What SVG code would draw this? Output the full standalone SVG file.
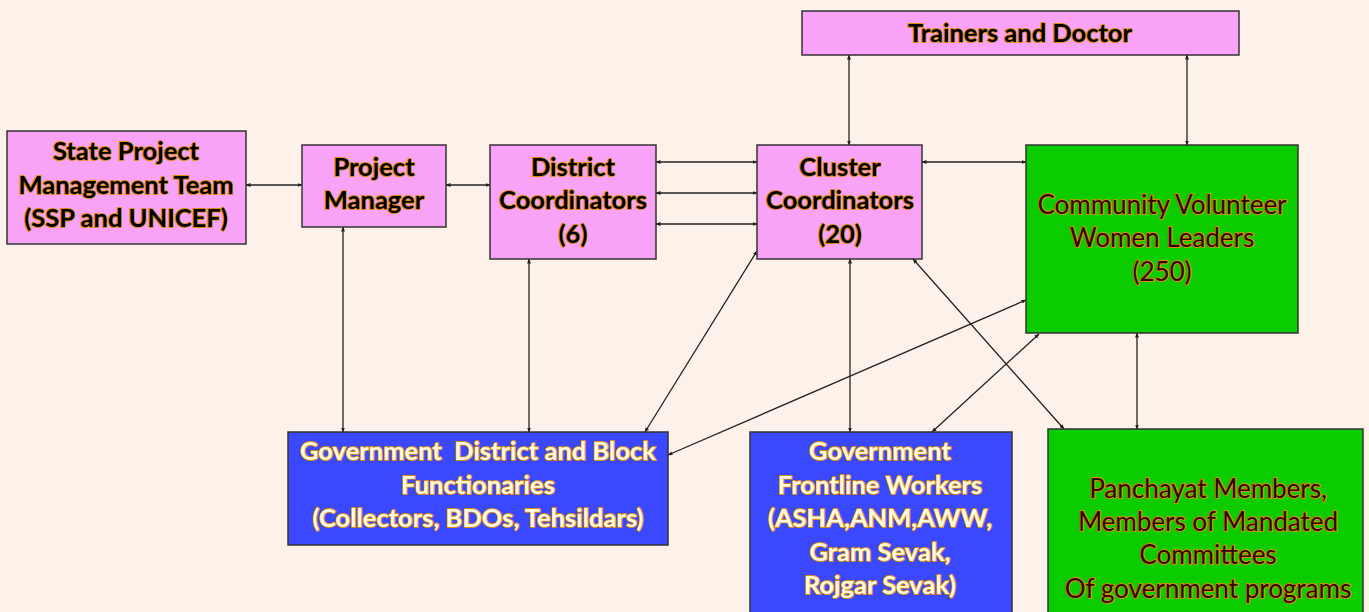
<svg xmlns="http://www.w3.org/2000/svg" width="1369" height="612" viewBox="0 0 1369 612">
<defs>
<marker id="ah" viewBox="0 0 10 10" refX="9" refY="5" markerWidth="5" markerHeight="5" orient="auto-start-reverse" markerUnits="userSpaceOnUse">
<path d="M0,1 L10,5 L0,9 z" fill="#222"/>
</marker>
<style>
.box{stroke:#333;stroke-width:1.5}
.pink{fill:#F8A3F8}
.green{fill:#0ACC00}
.blue{fill:#3A48FF}
.t{font-family:Lato,"Liberation Sans",sans-serif;font-size:25.5px;text-anchor:middle;paint-order:stroke;stroke:#E08A00;stroke-width:1.8;stroke-linejoin:round}
.bk{font-weight:bold;fill:#000}
.wh{font-weight:bold;fill:#FFFBE0}
.gr{font-weight:normal;font-size:26px;fill:#2a0a00}
.c line{stroke:#222;stroke-width:1.3;marker-start:url(#ah);marker-end:url(#ah)}
</style>
</defs>
<rect width="1369" height="612" fill="#FDF2E9"/>
<g class="c" id="connectors">
<line x1="246" y1="185" x2="302" y2="185"/>
<line x1="446" y1="185" x2="490" y2="185"/>
<line x1="656" y1="162" x2="757" y2="162"/>
<line x1="656" y1="193" x2="757" y2="193"/>
<line x1="656" y1="224" x2="757" y2="224"/>
<line x1="922" y1="162" x2="1026" y2="162"/>
<line x1="849" y1="55" x2="849" y2="145"/>
<line x1="1187" y1="55" x2="1187" y2="145"/>
<line x1="343" y1="227" x2="343" y2="432"/>
<line x1="529" y1="259" x2="529" y2="432"/>
<line x1="645" y1="432" x2="757" y2="251"/>
<line x1="668" y1="455" x2="1026" y2="300"/>
<line x1="850" y1="259" x2="850" y2="432"/>
<line x1="913" y1="259" x2="1064" y2="429"/>
<line x1="932" y1="432" x2="1039" y2="334"/>
<line x1="1137" y1="333" x2="1137" y2="429"/>
</g>
<g id="trainers">
<rect class="box pink" x="802" y="11" width="437" height="44"/>
<text class="t bk" x="1020" y="42">Trainers and Doctor</text>
</g>
<g id="spmt">
<rect class="box pink" x="7" y="131" width="239" height="113"/>
<text class="t bk" x="126" y="160">State Project</text>
<text class="t bk" x="126" y="194">Management Team</text>
<text class="t bk" x="126" y="227">(SSP and UNICEF)</text>
</g>
<g id="pm">
<rect class="box pink" x="302" y="145" width="144" height="82"/>
<text class="t bk" x="374" y="176">Project</text>
<text class="t bk" x="374" y="209">Manager</text>
</g>
<g id="dc">
<rect class="box pink" x="490" y="145" width="166" height="114"/>
<text class="t bk" x="573" y="176">District</text>
<text class="t bk" x="573" y="209">Coordinators</text>
<text class="t bk" x="573" y="243">(6)</text>
</g>
<g id="cc">
<rect class="box pink" x="757" y="145" width="165" height="114"/>
<text class="t bk" x="840" y="176">Cluster</text>
<text class="t bk" x="840" y="209">Coordinators</text>
<text class="t bk" x="840" y="243">(20)</text>
</g>
<g id="cvwl">
<rect class="box green" x="1026" y="145" width="272" height="188"/>
<text class="t gr" x="1162" y="214">Community Volunteer</text>
<text class="t gr" x="1162" y="247">Women Leaders</text>
<text class="t gr" x="1162" y="281">(250)</text>
</g>
<g id="govdb">
<rect class="box blue" x="288" y="432" width="380" height="113"/>
<text class="t wh" x="478" y="460" xml:space="preserve">Government  District and Block</text>
<text class="t wh" x="478" y="494">Functionaries</text>
<text class="t wh" x="478" y="527">(Collectors, BDOs, Tehsildars)</text>
</g>
<g id="frontline">
<rect class="box blue" x="750" y="432" width="262" height="190"/>
<text class="t wh" x="880" y="460">Government</text>
<text class="t wh" x="880" y="494">Frontline Workers</text>
<text class="t wh" x="880" y="527">(ASHA,ANM,AWW,</text>
<text class="t wh" x="880" y="561">Gram Sevak,</text>
<text class="t wh" x="880" y="594">Rojgar Sevak)</text>
</g>
<g id="panchayat">
<rect class="box green" x="1048" y="429" width="315" height="193"/>
<text class="t gr" x="1208" y="498">Panchayat Members,</text>
<text class="t gr" x="1208" y="531">Members of Mandated</text>
<text class="t gr" x="1208" y="564">Committees</text>
<text class="t gr" x="1208" y="598">Of government programs</text>
</g>
</svg>
